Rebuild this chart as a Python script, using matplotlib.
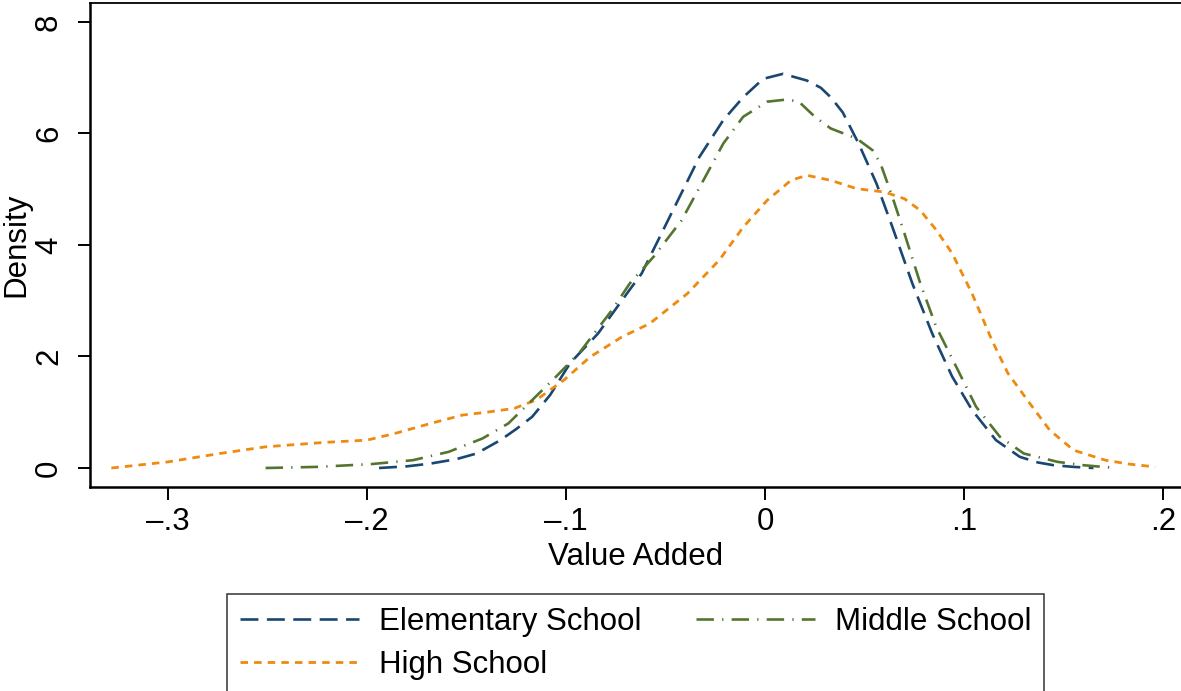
import matplotlib

matplotlib.use("Agg")
import matplotlib.pyplot as plt

plt.rcParams["font.family"] = ["Liberation Sans", "DejaVu Sans"]

# Kernel density estimates of value added, by school level
elem_x = [-0.194, -0.180, -0.168, -0.155, -0.145, -0.133, -0.125, -0.117, -0.108,
          -0.098, -0.084, -0.068, -0.062, -0.048, -0.033, -0.021, -0.011, -0.001,
          0.009, 0.021, 0.028, 0.033, 0.039, 0.047, 0.056, 0.064, 0.074, 0.084, 0.094,
          0.104, 0.116, 0.128, 0.137, 0.145, 0.155, 0.165]
elem_y = [0.0, 0.03, 0.08, 0.16, 0.26, 0.50, 0.70, 0.92, 1.31,
          1.88, 2.41, 3.20, 3.49, 4.50, 5.58, 6.24, 6.65, 6.98,
          7.07, 6.95, 6.82, 6.65, 6.38, 5.82, 5.10, 4.32, 3.31, 2.41, 1.64,
          1.04, 0.50, 0.20, 0.10, 0.05, 0.02, 0.0]

mid_x = [-0.251, -0.225, -0.198, -0.177, -0.159, -0.142, -0.129, -0.117, -0.105,
         -0.093, -0.077, -0.068, -0.056, -0.042, -0.031, -0.021, -0.011, 0.001,
         0.011, 0.017, 0.025, 0.033, 0.046, 0.054, 0.058, 0.064, 0.070, 0.078,
         0.086, 0.096, 0.106, 0.118, 0.130, 0.147, 0.160, 0.173]
mid_y = [0.0, 0.02, 0.07, 0.14, 0.29, 0.53, 0.80, 1.22, 1.64,
         2.08, 2.83, 3.31, 3.79, 4.44, 5.16, 5.82, 6.30, 6.57,
         6.61, 6.57, 6.30, 6.09, 5.91, 5.70, 5.46, 4.86, 4.21, 3.31,
         2.53, 1.82, 1.10, 0.56, 0.26, 0.11, 0.05, 0.01]

high_x = [-0.3285, -0.300, -0.274, -0.251, -0.221, -0.200, -0.186, -0.168, -0.152,
          -0.140, -0.126, -0.115, -0.101, -0.088, -0.072, -0.058, -0.039, -0.023,
          -0.011, 0.001, 0.013, 0.021, 0.033, 0.046, 0.060, 0.070, 0.078, 0.086,
          0.094, 0.104, 0.114, 0.122, 0.133, 0.143, 0.155, 0.171, 0.183, 0.196]
high_y = [0.0, 0.11, 0.26, 0.38, 0.46, 0.50, 0.62, 0.80, 0.95,
          1.00, 1.07, 1.22, 1.58, 1.99, 2.35, 2.59, 3.13, 3.73,
          4.32, 4.80, 5.16, 5.25, 5.16, 5.01, 4.95, 4.83, 4.62, 4.27,
          3.85, 3.13, 2.29, 1.70, 1.16, 0.68, 0.32, 0.14, 0.07, 0.02]

x_ticks = [-0.3, -0.2, -0.1, 0.0, 0.1, 0.2]
x_tick_labels = ["\u2013.3", "\u2013.2", "\u2013.1", "0", ".1", ".2"]
y_ticks = [0, 2, 4, 6, 8]

FS = 22.5

fig = plt.figure(figsize=(11.81, 6.91), dpi=100)
ax = fig.add_axes([0.0766, 0.2948, 0.9234, 0.7013])

l_elem, = ax.plot(elem_x, elem_y, color="#1a476f", lw=1.9,
                  linestyle=(0, (6.8, 3.2)), label="Elementary School")
l_high, = ax.plot(high_x, high_y, color="#ee8a0f", lw=2.0,
                  linestyle=(0, (2.7, 2.2)), label="High School")
l_mid, = ax.plot(mid_x, mid_y, color="#55752f", lw=1.9,
                 linestyle=(0, (6.6, 3.1, 0.5, 3.1)), label="Middle School")

ax.set_xlim(-0.339, 0.209)
ax.set_ylim(-0.346, 8.346)
ax.set_xticks(x_ticks)
ax.set_xticklabels(x_tick_labels)
ax.set_yticks(y_ticks)
ax.tick_params(axis="both", direction="out", length=9, width=1.4, labelsize=FS)
ax.tick_params(axis="x", pad=5)
ax.tick_params(axis="y", pad=10, labelrotation=90)
for lbl in ax.get_yticklabels():
    lbl.set_va("center")

ax.spines["left"].set_linewidth(1.8)
ax.spines["bottom"].set_linewidth(1.8)
ax.spines["top"].set_linewidth(1.3)
ax.spines["right"].set_visible(False)

ax.set_xlabel("Value Added", fontsize=FS, labelpad=4)
ax.set_ylabel("Density", fontsize=FS, labelpad=2)

leg = fig.legend(handles=[l_elem, l_high, l_mid], ncol=2, loc="upper left",
                 bbox_to_anchor=(227 / 1181, 1 - 594 / 691), fontsize=FS,
                 handlelength=3.8, handletextpad=0.64, columnspacing=1.75,
                 borderpad=0.42, labelspacing=0.42, frameon=True, fancybox=False,
                 borderaxespad=0)
leg.get_frame().set_edgecolor("black")
leg.get_frame().set_linewidth(1.1)

fig.savefig("out.png", dpi=100)
